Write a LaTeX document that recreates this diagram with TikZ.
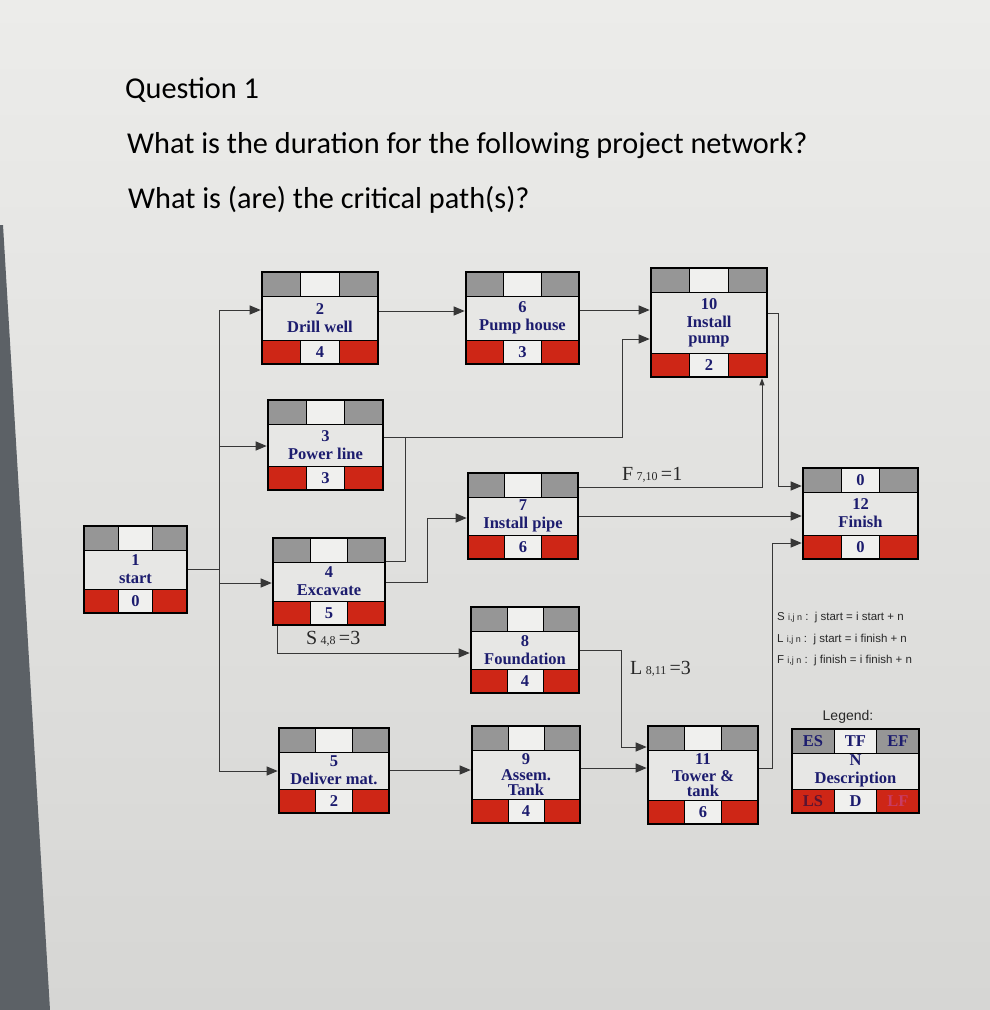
\documentclass[tikz,border=0pt]{standalone}
\usepackage{fontspec}
\setmainfont{Liberation Serif}
\newfontfamily\titlefont{Carlito}
\newfontfamily\sansfont{Liberation Sans}
\usetikzlibrary{arrows.meta}
\definecolor{bgtop}{RGB}{236,236,234}
\definecolor{bgbot}{RGB}{214,214,212}
\definecolor{strip}{RGB}{92,97,102}
\definecolor{cellgray}{RGB}{150,150,150}
\definecolor{cellred}{RGB}{206,38,22}
\definecolor{cellwhite}{RGB}{240,240,238}
\definecolor{midfill}{RGB}{231,231,229}
\definecolor{navy}{RGB}{28,28,110}
\definecolor{wire}{RGB}{55,55,55}
\definecolor{lstext}{RGB}{90,20,50}
\definecolor{lftext}{RGB}{200,60,100}
\definecolor{labtext}{RGB}{40,40,40}
\tikzset{
  frame/.style={draw=black, line width=2.6pt, fill=none, inner sep=0pt, rectangle},
  cellsep/.style={draw=black, line width=0.8pt},
  txt/.style={font=\bfseries\fontsize{16.5}{18}\selectfont, text=navy, inner sep=0pt, align=center},
  wirearrow/.style={draw=wire, line width=1pt, -{Triangle[length=11pt,width=9pt]}},
  wireline/.style={draw=wire, line width=1pt},
  lab/.style={text=labtext, inner sep=0pt, anchor=west},
  eqtext/.style={text=labtext, inner sep=0pt, anchor=west, font=\sansfont\fontsize{11.5}{12}\selectfont},
  title/.style={text=black, inner sep=0pt, anchor=base west, font=\titlefont\fontsize{30.3}{31}\selectfont},
}
\newcommand\actbox[8]{%
  \fill[midfill] (#2,#3) rectangle (#4,#5);
  \path[fill=cellgray, cellsep] (#2,#3) rectangle ({#2+(#4-#2)/3},{#3+24});
  \path[fill=cellwhite, cellsep] ({#2+(#4-#2)/3},#3) rectangle ({#2+2*(#4-#2)/3},{#3+24});
  \path[fill=cellgray, cellsep] ({#2+2*(#4-#2)/3},#3) rectangle (#4,{#3+24});
  \path[fill=cellred, cellsep] (#2,{#5-24}) rectangle ({#2+(#4-#2)/3},#5);
  \path[fill=cellwhite, cellsep] ({#2+(#4-#2)/3},{#5-24}) rectangle ({#2+2*(#4-#2)/3},#5);
  \path[fill=cellred, cellsep] ({#2+2*(#4-#2)/3},{#5-24}) rectangle (#4,#5);
  \node[txt] (#1-tf) at ({(#2+#4)/2},{#3+12}) {#6};
  \node[txt] (#1-dur) at ({(#2+#4)/2},{#5-12}) {#8};
  \node[txt] (#1-desc) at ({(#2+#4)/2},{(#3+#5)/2}) {#7};
  \node[frame, minimum width={#4-#2}, minimum height={#5-#3}] (#1) at ({(#2+#4)/2},{(#3+#5)/2}) {};
}
\begin{document}
\begin{tikzpicture}[x=1pt,y=-1pt]
\useasboundingbox (0,0) rectangle (990,1010);
% screen background
\shade[top color=bgtop, bottom color=bgbot] (0,0) rectangle (990,1010);
\fill[strip] (0,225) -- (3,225) -- (50,1010) -- (0,1010) -- cycle;

% title text
\node[title] (q1) at (125,98) {Question 1};
\node[title] (q2) at (127,153) {What is the duration for the following project network?};
\node[title] (q3) at (128,208) {What is (are) the critical path(s)?};

% activity boxes
\actbox{n1}{84}{526}{187}{613}{}{1\\start}{0}
\actbox{n2}{262}{272}{378}{364}{}{2\\Drill well}{4}
\actbox{n3}{268}{400}{383}{490}{}{3\\Power line}{3}
\actbox{n4}{273}{538}{385}{625}{}{4\\Excavate}{5}
\actbox{n5}{279}{728}{389}{813}{}{5\\Deliver mat.}{2}
\actbox{n6}{466}{272}{579}{364}{}{6\\Pump house}{3}
\actbox{n7}{468}{473}{578}{559}{}{7\\Install pipe}{6}
\actbox{n8}{471}{607}{579}{693}{}{8\\Foundation}{4}
\actbox{n9}{472}{726}{580}{823}{}{9\\[-2pt]Assem.\\[-3pt]Tank}{4}
\actbox{n10}{651}{268}{767}{377}{}{10\\Install\\[-2pt]pump}{2}
\actbox{n11}{648}{726}{758}{824}{}{11\\[-1pt]Tower \&\\[-3pt]tank}{6}
\actbox{n12}{803}{468}{918}{559}{0}{12\\Finish}{0}

% legend
\node[inner sep=0pt, text=labtext, font=\sansfont\fontsize{14}{14}\selectfont] (legtitle) at (848,717) {Legend:};
\actbox{leg}{792}{729}{919}{813}{TF}{N\\Description}{D}
\node[txt] (leg-es) at (813,741) {ES};
\node[txt] (leg-ef) at (898,741) {EF};
\node[txt, text=lstext] (leg-ls) at (813,801) {LS};
\node[txt, text=lftext] (leg-lf) at (898,801) {LF};

% relation definitions
\node[eqtext] (eqS) at (777,618) {S {\fontsize{9}{9}\selectfont i,j n} :\ \ j start = i start + n};
\node[eqtext] (eqL) at (777,640) {L {\fontsize{9}{9}\selectfont i,j n} :\ \ j start = i finish + n};
\node[eqtext] (eqF) at (777,661) {F {\fontsize{9}{9}\selectfont i,j n} :\ \ j finish = i finish + n};

% connectors
\coordinate (b1) at (219,569);
\draw[wireline] (n1.east |- 0,569) -- (b1);
\draw[wirearrow] (b1) |- (n2.west |- 0,310);
\draw[wirearrow] (b1) |- (n3.west |- 0,446);
\draw[wirearrow] (b1) |- (n4.west |- 0,583);
\draw[wirearrow] (b1) |- (n5.west |- 0,771);

\draw[wirearrow] (n2.east |- 0,311) -- (n6.west |- 0,311);
\draw[wirearrow] (n6.east |- 0,310) -- (n10.west |- 0,310);
\draw[wirearrow] (n3.east |- 0,437) -- (622,437) -- (622,339) -- (n10.west |- 0,339);
\coordinate (m4) at (405,437);
\draw[wireline] (n4.east |- 0,561) -- (405,561) -- (m4);
\draw[wirearrow] (n4.east |- 0,582) -- (427,582) -- (427,518) -- (n7.west |- 0,518);
\draw[wirearrow] (n4.south -| 277,0) -- (277,653) -- (n8.west |- 0,653);
\draw[wirearrow] (n5.east |- 0,770) -- (n9.west |- 0,770);
\draw[wirearrow] (n9.east |- 0,768) -- (n11.west |- 0,768);
\draw[wirearrow] (n8.east |- 0,650) -- (621,650) -- (621,747) -- (n11.west |- 0,747);
\draw[draw=wire, line width=1pt, -{Triangle[length=7pt,width=5pt]}] (n7.east |- 0,487) -- (762,487) -- (n10.south -| 762,0);
\draw[wirearrow] (n7.east |- 0,516) -- (n12.west |- 0,516);
\draw[wirearrow] (n10.east |- 0,313) -- (778,313) -- (778,486) -- (n12.west |- 0,486);
\draw[wirearrow] (n11.east |- 0,768) -- (772,768) -- (772,543) -- (n12.west |- 0,543);

% lag labels
\node[lab] (lF) at (622,475) {\fontsize{20}{20}\selectfont F\,{\fontsize{12}{12}\selectfont 7,10}\,=1};
\node[lab] (lS) at (306,639) {\fontsize{20}{20}\selectfont S\,{\fontsize{12}{12}\selectfont 4,8}\,=3};
\node[lab] (lL) at (630,669) {\fontsize{20}{20}\selectfont L\,{\fontsize{12}{12}\selectfont 8,11}\,=3};
\end{tikzpicture}
\end{document}
